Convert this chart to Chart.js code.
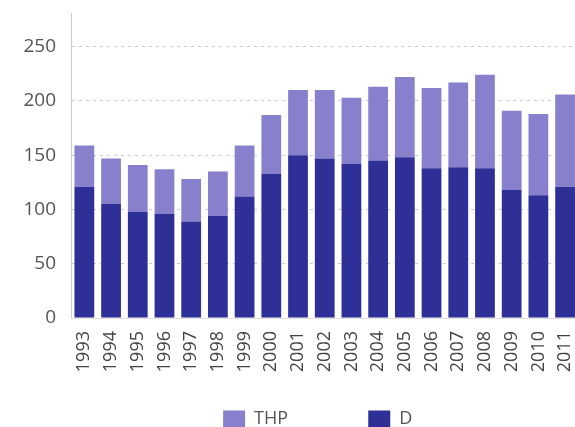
<!DOCTYPE html>
<html>
<head>
<meta charset="utf-8">
<script src="https://cdn.jsdelivr.net/npm/chart.js@4/dist/chart.umd.min.js"></script>
<style>
  html, body { margin: 0; padding: 0; background: #fff; overflow: hidden; }
  canvas { display: block; }
</style>
</head>
<body>
<canvas id="barChart" width="600" height="438"></canvas>
<script>
var years = ['1993', '1994', '1995', '1996', '1997', '1998', '1999', '2000', '2001', '2002',
  '2003', '2004', '2005', '2006', '2007', '2008', '2009', '2010', '2011'];
var dValues = [121, 105, 98, 96, 89, 94, 112, 133, 150, 147, 142, 145, 148, 138, 139, 138, 118, 113, 121];
var thpValues = [38, 42, 43, 41, 39, 41, 47, 54, 60, 63, 61, 68, 74, 74, 78, 86, 73, 75, 85];
var yTicks = [0, 50, 100, 150, 200, 250];

Chart.defaults.font.family = "'Open Sans', sans-serif";
Chart.defaults.color = '#555';

var chart = new Chart(document.getElementById('barChart'), {
  type: 'bar',
  data: {
    labels: years,
    datasets: [{
      label: 'D   ',
      data: dValues,
      backgroundColor: '#2f2f98'
    }, {
      label: 'THP' + '               ',
      data: thpValues,
      backgroundColor: '#8880cc'
    }]
  },
  options: {
    responsive: false,
    animation: false,
    layout: {
      padding: { top: 13, left: 0, right: 12, bottom: 0 }
    },
    datasets: {
      bar: { barPercentage: 0.74, categoryPercentage: 1 }
    },
    plugins: {
      tooltip: { enabled: false },
      legend: {
        position: 'bottom',
        fullSize: false,
        reverse: true,
        labels: {
          boxWidth: 22,
          boxHeight: 17,
          padding: 10,
          color: '#555',
          font: { size: 18 }
        }
      }
    },
    scales: {
      x: {
        stacked: true,
        grid: { display: false, drawTicks: false },
        border: { color: '#ddd' },
        ticks: { minRotation: 90, maxRotation: 90, padding: 13, font: { size: 18 }, color: '#444' },
        afterFit: function (scale) { scale.height = 82; }
      },
      y: {
        stacked: true,
        min: 0,
        max: 281,
        grid: { color: '#ccc', drawTicks: false },
        border: { color: '#ccc', dash: [3, 4] },
        ticks: { padding: 15, font: { size: 19 }, color: '#555' },
        afterBuildTicks: function (scale) {
          scale.ticks = yTicks.map(function (v) { return { value: v }; });
        },
        afterFit: function (scale) {
          scale.width = 71;
          scale.paddingTop = 0;
        }
      }
    }
  }
});
</script>
</body>
</html>
